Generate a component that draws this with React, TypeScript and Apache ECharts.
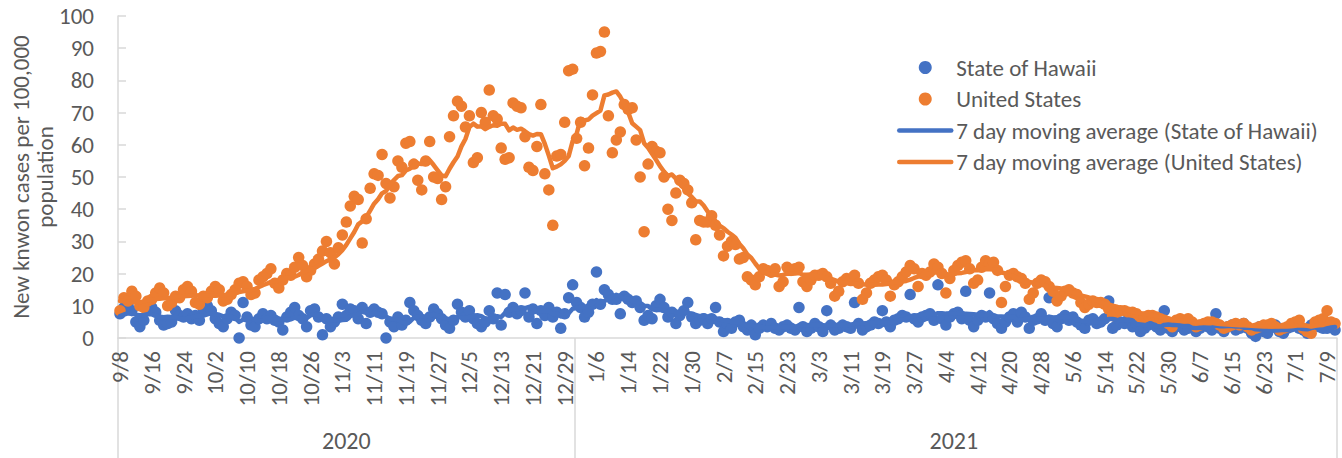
import React, { useEffect, useRef } from 'react';
import * as echarts from 'echarts';

// Daily new known cases per 100,000 population, 9/8/2020 .. 7/11/2021 (one value per day)
const unitedStates: number[] = [
  8.5, 12.5, 11.5, 14.5, 13, 10, 9.5, 11.5,
  12, 14, 15.5, 14, 10, 11, 13, 12.5,
  15, 16, 14.5, 11, 10.5, 13, 12.5, 14.5,
  16, 15, 11.5, 12, 13.5, 15, 17, 17.5,
  16, 13.5, 14, 18, 19, 20, 21.5, 17,
  15.5, 18, 20, 19.5, 22, 25, 22.5, 19,
  21, 23, 24.5, 27, 30, 26.5, 23, 28,
  32, 36, 41, 44, 43, 29.5, 37, 46.5,
  51, 50.5, 57, 48, 43.5, 47, 55, 53,
  60.5, 61, 54, 49, 46, 55, 61, 50,
  49.5, 43, 47, 62.5, 69, 73.5, 72, 65.5,
  69, 54.5, 56, 70, 67, 77, 69, 68,
  59, 55.5, 56, 73, 72, 71.5, 62.5, 53,
  52, 59.5, 72.5, 51, 46, 35, 56.5, 57,
  67, 83, 83.5, 62, 67, 53.5, 59, 75.5,
  88.5, 89, 95, 69, 57.5, 61.5, 64, 72.5,
  71, 71.5, 61.5, 50, 33, 54, 59.5, 58,
  57.5, 50, 40, 36.5, 45, 49, 48, 46,
  42, 30.5, 36.5, 36, 36, 38, 35, 32,
  25.5, 28.5, 30, 29, 24.5, 25, 19, 18,
  16.5, 19, 21.5, 21, 20.5, 21.5, 16, 17.5,
  22, 21, 21.5, 22, 17.5, 16, 18, 19.5,
  19.5, 20, 19, 17, 13, 14.5, 17.5, 18.5,
  18, 19.5, 17, 12, 14, 17, 18, 19,
  19.5, 18, 13, 16.5, 17.5, 19, 20.5, 22.5,
  21.5, 16, 20, 19.5, 20.5, 23, 22, 20,
  14, 18.5, 21, 22.5, 23.5, 24, 21.5, 17,
  18, 22, 24, 23, 23.5, 21, 11, 16,
  19.5, 20, 19, 18.5, 17, 12, 14, 17,
  18, 17.5, 16, 14.5, 11.5, 13, 14.5, 15,
  14, 13.5, 11, 9.5, 10.5, 11.5, 11, 11,
  10.5, 9, 7, 8, 8.5, 8.5, 8, 8,
  7.5, 5.5, 6.5, 7, 7, 6.5, 6, 5.5,
  4.5, 3.5, 5.5, 6, 5.5, 6, 5, 3.5,
  4, 4.5, 5, 5, 4.5, 4, 3, 3.5,
  4, 4.5, 4, 4.5, 3.5, 2.5, 3, 3.5,
  4, 4, 4.5, 3.5, 2.5, 3, 3.5, 4.5,
  5, 5.5, 3, 2, 1.5, 5, 5.5, 6,
  8.5, 5, 4.5,
];

const hawaii: number[] = [
  7.5, 9.5, 10.5, 8.5, 5, 3.5, 5.5, 9,
  9.5, 8, 5.5, 4, 4.5, 5, 8.5, 7,
  6.5, 7.5, 6, 7, 5.5, 9, 10, 8.5,
  6, 4.5, 3.5, 6, 8, 7, 0, 11,
  6.5, 4, 3.5, 6, 7.5, 6, 7, 5.5,
  5, 2.5, 6.5, 8, 9.5, 7, 6, 3.5,
  8.5, 9, 6.5, 1, 6, 3.5, 5, 6.5,
  10.5, 7, 9, 8.5, 6, 9.5, 4.5, 8,
  9, 8, 7.5, 0, 5, 3.5, 6.5, 4,
  5.5, 11, 8.5, 7, 5.5, 4.5, 6.5, 9,
  7.5, 6, 4, 3, 5.5, 10.5, 8, 6.5,
  8.5, 6, 4.5, 3.5, 5, 8.5, 6, 14,
  4, 13.5, 8, 9.5, 7.5, 8.5, 14, 6.5,
  9, 4.5, 8.5, 7, 9.5, 6.5, 8, 3,
  7.5, 12.5, 16.5, 11, 9.5, 6.5, 8, 10.5,
  20.5, 10.5, 15, 13.5, 12, 12, 7.5, 13,
  12, 11, 11.5, 9.5, 5.5, 7, 6, 10,
  12, 9.5, 6.5, 8, 4.5, 7, 8.5, 11,
  6.5, 4.5, 5.5, 6, 4.5, 6, 9.5, 5,
  2, 4.5, 3, 5, 5.5, 3.5, 2.5, 4,
  1, 3, 4, 3.5, 4.5, 3, 2.5, 3.5,
  4, 3, 2.5, 9.5, 3.5, 2, 3, 4.5,
  3.5, 2, 8.5, 4, 2.5, 3, 4, 3.5,
  3, 11, 4.5, 2.5, 3.5, 4, 5, 4.5,
  8.5, 5, 3.5, 5.5, 6, 7, 6.5, 13.5,
  6, 5, 6.5, 7, 7.5, 5.5, 16.5, 6,
  4, 6.5, 7.5, 8, 6, 14.5, 5.5, 3.5,
  5.5, 7, 6.5, 14, 6, 4.5, 3, 5,
  6.5, 7.5, 5, 8, 6.5, 3, 5.5, 6,
  7.5, 5.5, 12.5, 4.5, 3.5, 6, 7, 5.5,
  6.5, 5, 4, 3, 5.5, 6, 4.5, 5,
  6, 11.5, 3, 4, 5, 4.5, 6, 3.5,
  4.5, 2, 3, 4, 5, 3.5, 2.5, 8.5,
  3, 2, 3.5, 4, 2.5, 3, 4.5, 2,
  3, 4, 3.5, 2.5, 7.5, 3, 2, 3.5,
  4, 2.5, 3, 4.5, 3, 1.5, 0.5, 3.5,
  2, 1.5, 3.5, 4, 2, 1.5, 3, 3.5,
  4, 3, 2.5, 1.5, 4, 4.5, 3.5, 3,
  3, 3.5, 2.5,
];

// the six days before 9/8 (used only by the trailing 7-day averages)
const usLeadIn: number[] = [12.5, 13.5, 15, 13, 10, 8];
const hawaiiLeadIn: number[] = [6, 8, 7.5, 9, 4.5, 5];

const firstDay = [2020, 8, 8]; // year, month index, day
const seriesNames = [
  'State of Hawaii',
  'United States',
  '7 day moving average (State of Hawaii)',
  '7 day moving average (United States)',
];
const yAxisTitle = 'New knwon cases per 100,000\npopulation';

const dayDates = unitedStates.map((_, i) => new Date(firstDay[0], firstDay[1], firstDay[2] + i));
const dateLabels = dayDates.map((d) => `${d.getMonth() + 1}/${d.getDate()}`);
const years = Array.from(new Set(dayDates.map((d) => d.getFullYear())));
const yearStart = years.map((y) => dayDates.findIndex((d) => d.getFullYear() === y));
const yearEnd = years.map((y, k) => (k + 1 < years.length ? yearStart[k + 1] - 1 : dayDates.length - 1));
const yearMid = years.map((_, k) => Math.floor((yearStart[k] + yearEnd[k]) / 2));

function movingAverage(lead: number[], vals: number[]): number[] {
  const all = lead.concat(vals);
  return vals.map((_, i) => {
    const end = i + lead.length;
    const w = all.slice(Math.max(0, end - 6), end + 1);
    return Math.round((w.reduce((a, b) => a + b, 0) / w.length) * 100) / 100;
  });
}
const hawaiiMA = movingAverage(hawaiiLeadIn, hawaii);
const usMA = movingAverage(usLeadIn, unitedStates);

const FONT = 'Carlito, Lato, sans-serif';
const TEXT = '#595959';
const AXIS = '#d9d9d9';
const BLUE = '#4472C4';
const ORANGE = '#ED7D31';
const FS = 23;

export default function App() {
  const ref = useRef<HTMLDivElement>(null);
  useEffect(() => {
    if (!ref.current) return;
    const chart = echarts.init(ref.current, null, { renderer: 'svg' });
    chart.setOption({
      animation: false,
      textStyle: { fontFamily: FONT },
      grid: {
        left: 118,
        right: 5,
        top: 16,
        bottom: 120,
        containLabel: false,
        outerBoundsMode: 'none',
      },
      legend: {
        orient: 'vertical',
        left: 892,
        top: 51,
        itemWidth: 52,
        itemHeight: 13,
        itemGap: 8.5,
        textStyle: { fontSize: FS, color: TEXT, fontFamily: FONT },
        data: [
          { name: seriesNames[0] },
          { name: seriesNames[1] },
          { name: seriesNames[2], itemStyle: { opacity: 0 }, lineStyle: { width: 4.5, cap: 'round' } },
          { name: seriesNames[3], itemStyle: { opacity: 0 }, lineStyle: { width: 4.5, cap: 'round' } },
        ],
      },
      xAxis: [
        {
          type: 'category',
          data: dateLabels,
          boundaryGap: true,
          axisLine: { show: true, lineStyle: { color: AXIS, width: 1.5 } },
          axisTick: { show: false },
          splitLine: { show: false },
          axisLabel: {
            interval: 7,
            rotate: 90,
            fontSize: FS,
            color: TEXT,
            fontFamily: FONT,
            margin: 13,
          },
        },
        {
          type: 'category',
          data: dateLabels,
          position: 'bottom',
          boundaryGap: true,
          axisLine: { show: false },
          axisTick: {
            show: true,
            length: 120,
            interval: (i: number) => yearStart.includes(i),
            lineStyle: { color: AXIS, width: 1.5 },
          },
          splitLine: { show: false },
          axisLabel: {
            interval: (i: number) => yearMid.includes(i),
            formatter: (_v: string, i: number) => {
              const k = yearMid.indexOf(i);
              return k >= 0 ? String(years[k]) : '';
            },
            fontSize: 24,
            color: TEXT,
            fontFamily: FONT,
            margin: 90,
          },
        },
      ],
      yAxis: {
        type: 'value',
        min: 0,
        max: 100,
        interval: 10,
        axisLine: { show: true, lineStyle: { color: AXIS, width: 1.5 } },
        axisTick: { show: true, inside: true, length: 8, lineStyle: { color: AXIS, width: 1.5 } },
        splitLine: { show: false },
        axisLabel: { fontSize: FS, color: TEXT, fontFamily: FONT, margin: 24 },
        name: yAxisTitle,
        nameLocation: 'middle',
        nameRotate: 90,
        nameGap: 61,
        nameMoveOverlap: false,
        nameTextStyle: { fontSize: FS, color: TEXT, fontFamily: FONT, lineHeight: 24 },
      },
      series: [
        {
          name: seriesNames[0],
          type: 'scatter',
          data: hawaii,
          symbol: 'circle',
          symbolSize: 11.5,
          itemStyle: { color: BLUE, opacity: 1 },
        },
        {
          name: seriesNames[1],
          type: 'scatter',
          data: unitedStates,
          symbol: 'circle',
          symbolSize: 11.5,
          itemStyle: { color: ORANGE, opacity: 1 },
        },
        {
          name: seriesNames[2],
          type: 'line',
          data: hawaiiMA,
          symbol: 'none',
          showSymbol: false,
          color: BLUE,
          lineStyle: { color: BLUE, width: 4.5, cap: 'round', join: 'round' },
        },
        {
          name: seriesNames[3],
          type: 'line',
          data: usMA,
          symbol: 'none',
          showSymbol: false,
          color: ORANGE,
          lineStyle: { color: ORANGE, width: 4.5, cap: 'round', join: 'round' },
        },
      ],
    });
    return () => chart.dispose();
  }, []);
  return (
    <div
      ref={ref}
      style={{ position: 'absolute', left: 0, top: 0, width: 1342, height: 458 }}
    />
  );
}
